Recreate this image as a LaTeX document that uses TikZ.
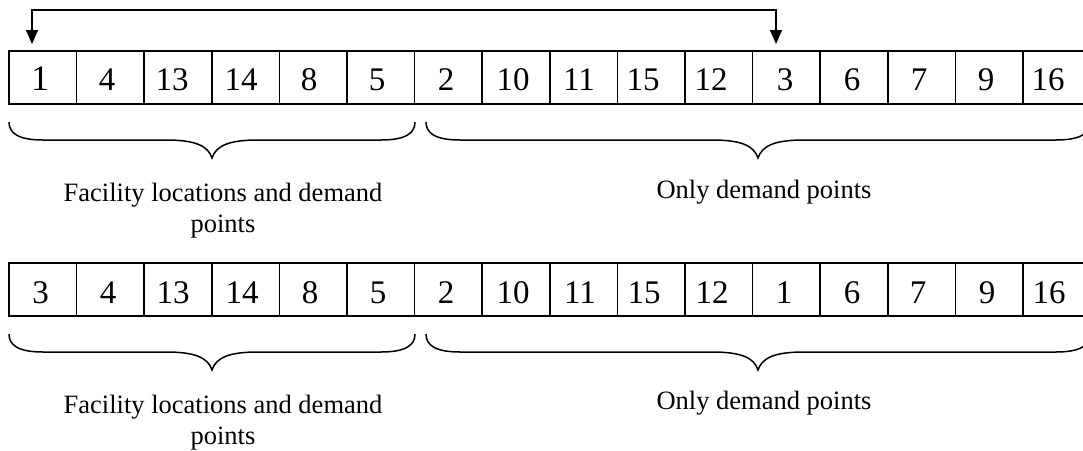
\documentclass[tikz,border=0pt]{standalone}
\usepackage{fontspec}
\setmainfont{Liberation Serif}
\usetikzlibrary{arrows.meta,calc}
\newcommand\wbrace[3]{% #1 = left x, #2 = right x, #3 = top y
  \pgfmathsetmacro\xm{(#1+#2)/2}
  \draw[bracestyle] (#1,#3)
    .. controls (#1,{#3+11}) and ({#1+9},{#3+18}) .. ({#1+34},{#3+18})
    -- ({\xm-46},{#3+18})
    .. controls ({\xm-16},{#3+18}) and ({\xm-4},{#3+24}) .. (\xm,{#3+36})
    .. controls ({\xm+4},{#3+24}) and ({\xm+16},{#3+18}) .. ({\xm+46},{#3+18})
    -- ({#2-34},{#3+18})
    .. controls ({#2-9},{#3+18}) and (#2,{#3+11}) .. (#2,#3);}
\begin{document}
\begin{tikzpicture}[x=1pt,y=-1pt,
  cell/.style={draw, line width=1.7pt, minimum width=67.6pt, minimum height=53pt, inner sep=0pt, outer sep=0pt},
  num/.style={font=\fontsize{33}{33}\selectfont, anchor=base, inner sep=0pt},
  bignum/.style={font=\fontsize{36}{36}\selectfont, anchor=base, inner sep=0pt},
  lbl/.style={font=\fontsize{26.5}{31}\selectfont, align=center, anchor=base, inner sep=0pt},
  bracestyle/.style={line width=1.5pt},
  link/.style={line width=1.6pt, {Triangle[length=14pt,width=12pt]}-{Triangle[length=14pt,width=12pt]}}]
\useasboundingbox (0,0) rectangle (1083,450);
\clip (0,0) rectangle (1083,450);
% cells of both rows
\foreach \i in {1,...,16} {
  \node[cell] (a\i) at ({9+67.6*(\i-0.5)},77.5) {};
  \node[cell] (b\i) at ({9+67.6*(\i-0.5)},289.5) {};
}
% row 1 numbers
\node[bignum] (na1) at (40,90) {1};
\foreach \v/\x [count=\i from 2] in {4/107,13/172,14/241,8/309,5/377,2/446,10/513,11/579,15/643,12/711,3/785,6/852,7/919,9/986,16/1048}
  \node[num] (na\i) at (\x,90.5) {\v};
% row 2 numbers
\foreach \v/\x [count=\i] in {3/40.5,4/108,13/173,14/242,8/310,5/378,2/446,10/513,11/580,15/644,12/712,1/784,6/852,7/918,9/987,16/1049}
  \node[num] (nb\i) at (\x,303) {\v};
% swap arrow
\coordinate (p1) at (32,44);
\coordinate (p2) at (776,44);
\draw[link] (p1) -- ++(0,-34) -| (p2);
% braces
\wbrace{9}{415}{122}
\wbrace{426}{1090}{122}
\wbrace{9}{415}{334}
\wbrace{426}{1090}{334}
% labels
\node[lbl] (l1) at (223,232) {Facility locations and demand\\points};
\node[lbl] (l2) at (764,198) {Only demand points};
\node[lbl] (l3) at (223,444) {Facility locations and demand\\points};
\node[lbl] (l4) at (764,409) {Only demand points};
\end{tikzpicture}
\end{document}
